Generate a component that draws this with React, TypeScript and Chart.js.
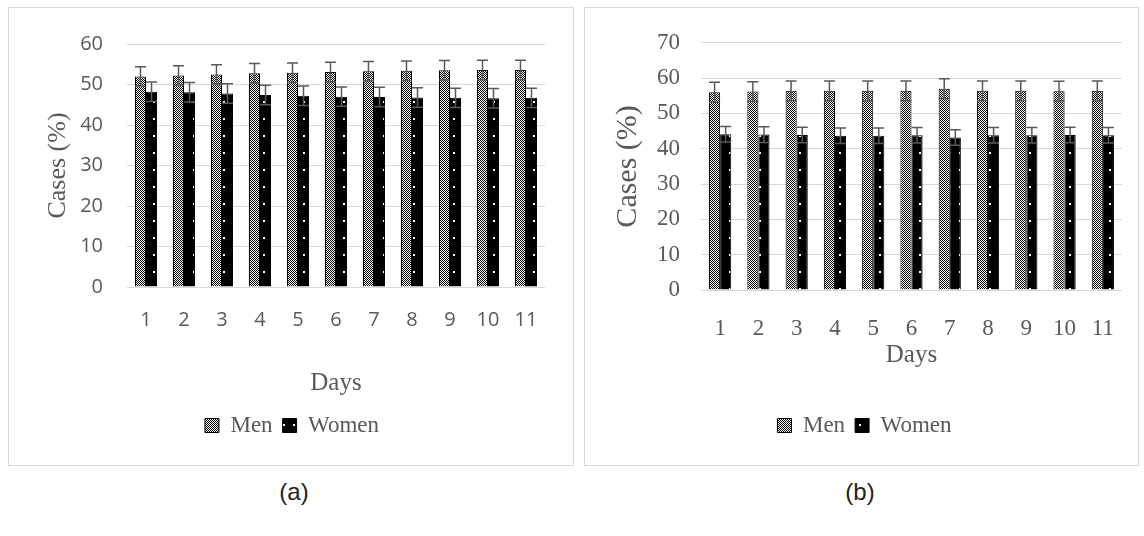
import React, { useEffect, useRef } from 'react';
import { Chart, registerables } from 'chart.js';

Chart.register(...registerables);

const DAYS = ['1', '2', '3', '4', '5', '6', '7', '8', '9', '10', '11'];

const MEN_A = [52.0, 52.2, 52.5, 52.8, 52.9, 53.1, 53.3, 53.4, 53.5, 53.6, 53.6];
const MEN_A_ERR = [2.4, 2.4, 2.4, 2.4, 2.4, 2.4, 2.4, 2.4, 2.4, 2.4, 2.4];
const WOMEN_A = [48.2, 48.1, 47.8, 47.4, 47.2, 47.0, 46.9, 46.8, 46.7, 46.6, 46.7];
const WOMEN_A_ERR = [2.4, 2.4, 2.4, 2.4, 2.4, 2.4, 2.4, 2.4, 2.4, 2.4, 2.4];

const MEN_B = [56.0, 56.2, 56.4, 56.4, 56.4, 56.4, 57.0, 56.4, 56.4, 56.3, 56.4];
const MEN_B_ERR = [2.8, 2.8, 2.8, 2.8, 2.8, 2.8, 2.8, 2.8, 2.8, 2.8, 2.8];
const WOMEN_B = [44.1, 44.0, 43.9, 43.7, 43.7, 43.8, 43.2, 43.8, 43.8, 43.9, 43.8];
const WOMEN_B_ERR = [2.2, 2.2, 2.2, 2.2, 2.2, 2.2, 2.2, 2.2, 2.2, 2.2, 2.2];

const Y_MAX_A = 60;
const Y_MAX_B = 70;
const Y_STEP = 10;

const GRAY = '#595959';

function makeMenPattern(ctx: CanvasRenderingContext2D) {
  const t = document.createElement('canvas');
  t.width = 4;
  t.height = 4;
  const c = t.getContext('2d')!;
  c.fillStyle = '#000';
  c.fillRect(0, 0, 4, 4);
  c.fillStyle = '#fff';
  for (let y = 0; y < 4; y++) {
    for (let x = 0; x < 4; x++) {
      if ((x + y) % 2 === 0) c.fillRect(x, y, 1, 1);
    }
  }
  return ctx.createPattern(t, 'repeat')!;
}

function makeWomenPattern(ctx: CanvasRenderingContext2D) {
  const t = document.createElement('canvas');
  t.width = 10;
  t.height = 17;
  const c = t.getContext('2d')!;
  c.fillStyle = '#000';
  c.fillRect(0, 0, 10, 17);
  c.fillStyle = '#fff';
  c.fillRect(4, 8, 2, 2);
  return ctx.createPattern(t, 'repeat')!;
}

const errorBarPlugin = {
  id: 'errorBars',
  afterDatasetsDraw(chart: any) {
    const ctx = chart.ctx;
    const yScale = chart.scales.y;
    ctx.save();
    ctx.strokeStyle = GRAY;
    ctx.lineWidth = 1.5;
    chart.data.datasets.forEach((ds: any, i: number) => {
      const meta = chart.getDatasetMeta(i);
      meta.data.forEach((el: any, j: number) => {
        const v = ds.data[j];
        const e = ds.errors[j];
        const yTop = yScale.getPixelForValue(v + e);
        const yBot = yScale.getPixelForValue(v - e);
        const x = el.x;
        const cap = 5.5;
        ctx.beginPath();
        ctx.moveTo(x, yTop);
        ctx.lineTo(x, yBot);
        ctx.moveTo(x - cap, yTop);
        ctx.lineTo(x + cap, yTop);
        ctx.moveTo(x - cap, yBot);
        ctx.lineTo(x + cap, yBot);
        ctx.stroke();
      });
    });
    ctx.restore();
  },
};

type Cfg = {
  men: number[];
  menErr: number[];
  women: number[];
  womenErr: number[];
  yMax: number;
  padLeft: number;
  padRight: number;
  padTop: number;
  padBottom: number;
  yWidth: number;
  xHeight: number;
  tickFont: any;
  yTickPad: number;
  xTickPad: number;
  yTitleSize: number;
  yTitlePad: number;
  daysPadBottom: number;
};

function makeChart(canvas: HTMLCanvasElement, cfg: Cfg) {
  const ctx = canvas.getContext('2d')!;
  const menPat = makeMenPattern(ctx);
  const womenPat = makeWomenPattern(ctx);
  return new Chart(canvas, {
    type: 'bar',
    data: {
      labels: DAYS,
      datasets: [
        {
          label: 'Men',
          data: cfg.men,
          errors: cfg.menErr,
          backgroundColor: menPat,
          borderColor: '#000',
          borderWidth: 1,
          barPercentage: 1,
          categoryPercentage: 0.58,
        } as any,
        {
          label: 'Women',
          data: cfg.women,
          errors: cfg.womenErr,
          backgroundColor: womenPat,
          borderColor: '#000',
          borderWidth: 1,
          barPercentage: 1,
          categoryPercentage: 0.58,
        } as any,
      ],
    },
    options: {
      responsive: false,
      animation: false,
      layout: { padding: { left: cfg.padLeft, right: cfg.padRight, top: cfg.padTop, bottom: cfg.padBottom } },
      plugins: {
        legend: {
          position: 'bottom',
          labels: {
            font: { family: 'Liberation Serif', size: 23 },
            color: GRAY,
            boxWidth: 14,
            boxHeight: 14,
            padding: 10,
          },
        },
        tooltip: { enabled: false },
      },
      scales: {
        x: {
          grid: { display: false },
          border: { display: false },
          ticks: { font: cfg.tickFont, color: GRAY, padding: cfg.xTickPad },
          title: {
            display: true,
            text: 'Days',
            font: { family: 'Liberation Serif', size: 25 },
            color: GRAY,
            padding: { top: 0, bottom: cfg.daysPadBottom },
          },
          afterFit: (s: any) => {
            s.height = cfg.xHeight;
          },
        },
        y: {
          min: 0,
          max: cfg.yMax,
          ticks: { stepSize: Y_STEP, font: cfg.tickFont, color: GRAY, padding: cfg.yTickPad },
          grid: { color: '#d9d9d9', drawTicks: false, lineWidth: 1 },
          border: { display: false },
          title: {
            display: true,
            text: 'Cases (%)',
            font: { family: 'Liberation Serif', size: cfg.yTitleSize },
            color: GRAY,
            padding: { top: cfg.yTitlePad, bottom: 0 },
          },
          afterFit: (s: any) => {
            s.width = cfg.yWidth;
          },
        },
      },
    } as any,
    plugins: [errorBarPlugin],
  });
}

export default function App() {
  const refA = useRef<HTMLCanvasElement>(null);
  const refB = useRef<HTMLCanvasElement>(null);

  useEffect(() => {
    const a = makeChart(refA.current!, {
      men: MEN_A,
      menErr: MEN_A_ERR,
      women: WOMEN_A,
      womenErr: WOMEN_A_ERR,
      yMax: Y_MAX_A,
      padLeft: 30,
      padRight: 28,
      padTop: 21,
      padBottom: 18,
      yWidth: 88,
      xHeight: 117,
      tickFont: { family: 'Open Sans', size: 20 },
      yTickPad: 24,
      xTickPad: 13,
      yTitleSize: 26,
      yTitlePad: 4,
      daysPadBottom: 6,
    });
    const b = makeChart(refB.current!, {
      men: MEN_B,
      menErr: MEN_B_ERR,
      women: WOMEN_B,
      womenErr: WOMEN_B_ERR,
      yMax: Y_MAX_B,
      padLeft: 22,
      padRight: 16,
      padTop: 22,
      padBottom: 18,
      yWidth: 94,
      xHeight: 114,
      tickFont: { family: 'Liberation Serif', size: 23 },
      yTickPad: 21,
      xTickPad: 17,
      yTitleSize: 30,
      yTitlePad: 3,
      daysPadBottom: 34,
    });
    return () => {
      a.destroy();
      b.destroy();
    };
  }, []);

  const panel: React.CSSProperties = {
    position: 'absolute',
    top: 7,
    height: 459,
    boxSizing: 'border-box',
    border: '1px solid #d9d9d9',
    background: '#fff',
  };
  const caption: React.CSSProperties = {
    position: 'absolute',
    top: 476,
    width: 100,
    textAlign: 'center',
    fontFamily: 'Liberation Sans',
    fontSize: 24,
    color: '#222',
    lineHeight: '32px',
  };

  return (
    <div style={{ position: 'fixed', left: 0, top: 0, width: 1144, height: 536, background: '#fff' }}>
      <div style={{ ...panel, left: 8, width: 566 }}>
        <canvas ref={refA} width={564} height={457} style={{ display: 'block' }} />
      </div>
      <div style={{ ...panel, left: 584, width: 555 }}>
        <canvas ref={refB} width={553} height={457} style={{ display: 'block' }} />
      </div>
      <div style={{ ...caption, left: 244 }}>(a)</div>
      <div style={{ ...caption, left: 810 }}>(b)</div>
    </div>
  );
}
